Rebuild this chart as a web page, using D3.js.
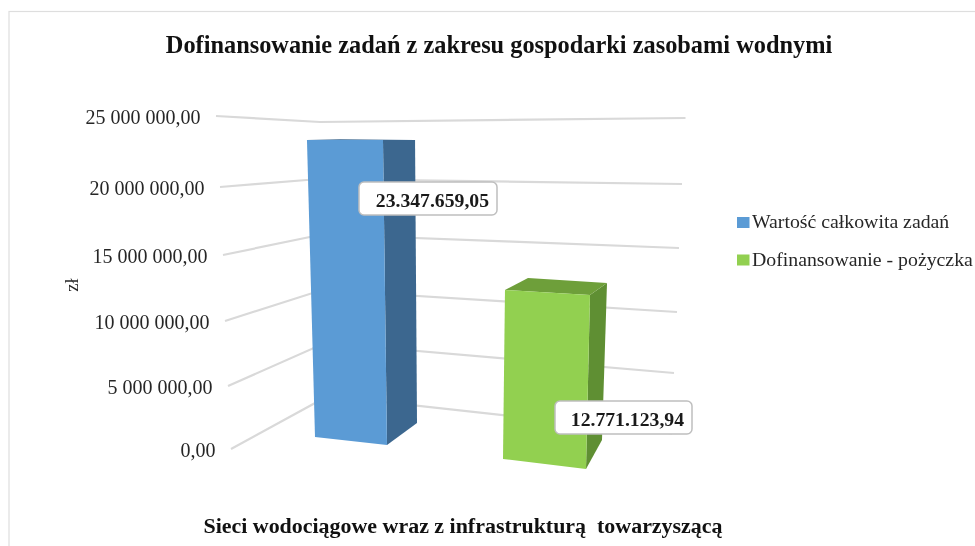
<!DOCTYPE html>
<html><head><meta charset="utf-8">
<script src="https://cdn.jsdelivr.net/npm/d3@7"></script>
<style>html,body{margin:0;padding:0;background:#fff;overflow:hidden}svg{display:block;filter:blur(0.45px)}text{font-family:"Liberation Serif",serif}</style>
</head><body><svg id="c" width="975" height="546"></svg>
<script>
const seriesNames = ["Wartość całkowita zadań", "Dofinansowanie - pożyczka"];
const seriesValues = [23347659.05, 12771123.94];
const valueLabels = ["23.347.659,05", "12.771.123,94"];
const seriesColors = ["#5b9bd5", "#92d050"];
const sideColors = ["#3c678f", "#5f8f33"];
const topColors = ["#3c678f", "#6e9f3a"];
const axisTicks = [0, 5000000, 10000000, 15000000, 20000000, 25000000];
const tickLabels = ["0,00", "5 000 000,00", "10 000 000,00", "15 000 000,00", "20 000 000,00", "25 000 000,00"];
const titleText = "Dofinansowanie zadań z zakresu gospodarki zasobami wodnymi";
const categoryName = "Sieci wodociągowe wraz z infrastrukturą  towarzyszącą";
const unitName = "zł";

const svg = d3.select("#c");
const dom = [0, 25000000];
const lin = (a, b) => d3.scaleLinear().domain(dom).range([a, b]);
const persp = r => d3.scaleLinear().domain(axisTicks).range(r);
// The wall is drawn in perspective, so tick spacing is not even on screen.
const frontX = persp([231, 228, 225, 223, 220, 216]), frontY = persp([449, 386, 321, 255, 187, 116]);
const cornerX = persp([328, 325, 322, 322, 319, 320]), cornerY = persp([396, 343, 290, 234.5, 179, 122]);
const endX = persp([672, 674, 677, 679, 682, 685.5]), endY = persp([433.5, 373, 312, 248, 184, 118]);

svg.append("rect").attr("x", 9).attr("y", 11.5).attr("width", 985).attr("height", 560)
  .attr("fill", "#fff").attr("stroke", "#dedede").attr("stroke-width", 1.2);

const grid = svg.append("g").attr("fill", "none").attr("stroke", "#d9d9d9").attr("stroke-width", 2.2);
grid.selectAll("path").data(axisTicks).join("path")
  .attr("d", v => d3.line()([[frontX(v), frontY(v)], [cornerX(v), cornerY(v)], [endX(v), endY(v)]]));

// Each bar corner: [x at 0, y at 0, x at axis max, y at axis max]
const barCorners = [
  { fl: [315, 437, 306.4, 119], fr: [387, 445, 382.7, 118.4], br: [417, 423, 414.9, 120], bl: [345, 420, 340, 119.5] },
  { fl: [503, 459, 506.9, 128.2], fr: [586, 469, 593.8, 128.4], br: [602, 440, 611.8, 132.7], bl: [523, 430, 532.8, 132.4] }
];
const pt = (c, v) => [lin(c[0], c[2])(v), lin(c[1], c[3])(v)];
const poly = pts => d3.line().curve(d3.curveLinearClosed)(pts);
const bars = svg.append("g");
seriesValues.forEach((v, i) => {
  const c = barCorners[i];
  bars.append("path").attr("fill", sideColors[i])
    .attr("d", poly([pt(c.fr, 0), pt(c.br, 0), pt(c.br, v), pt(c.fr, v)]));
  bars.append("path").attr("fill", topColors[i])
    .attr("d", poly([pt(c.fl, v), pt(c.fr, v), pt(c.br, v), pt(c.bl, v)]));
  bars.append("path").attr("fill", seriesColors[i])
    .attr("d", poly([pt(c.fl, 0), pt(c.fr, 0), pt(c.fr, v), pt(c.fl, v)]));
});

svg.append("g").selectAll("text").data(axisTicks).join("text")
  .attr("x", v => frontX(v) - 15.5).attr("y", v => frontY(v) + 7.5)
  .attr("text-anchor", "end").attr("font-size", 20).attr("fill", "#262626")
  .text((v, i) => tickLabels[i]);

// Data labels
const labelBoxes = [{ x: 359, y: 182, w: 138, h: 33 }, { x: 555, y: 401, w: 137, h: 33 }];
const labels = svg.append("g");
labelBoxes.forEach((b, i) => {
  labels.append("rect").attr("x", b.x).attr("y", b.y).attr("width", b.w).attr("height", b.h).attr("rx", 5)
    .attr("fill", "#fff").attr("stroke", "#bfbfbf").attr("stroke-width", 1.5);
  labels.append("text").attr("x", b.x + b.w - 8).attr("y", b.y + 24.5).attr("text-anchor", "end")
    .attr("font-size", 19.7).attr("font-weight", "bold").attr("fill", "#1a1a1a").text(valueLabels[i]);
});

svg.append("text").attr("x", 499).attr("y", 53).attr("text-anchor", "middle")
  .attr("font-size", 24.35).attr("font-weight", "bold").attr("fill", "#111").text(titleText);
svg.append("text").attr("x", 463).attr("y", 533).attr("text-anchor", "middle")
  .style("white-space", "pre").attr("font-size", 21.95).attr("font-weight", "bold").attr("fill", "#111").text(categoryName);
svg.append("text").attr("transform", "translate(78,285) rotate(-90)").attr("text-anchor", "middle")
  .attr("font-size", 18.5).attr("fill", "#262626").text(unitName);

const legend = svg.append("g");
seriesNames.forEach((n, i) => {
  const y = 222 + i * 37.5;
  legend.append("rect").attr("x", 737).attr("y", y - 5).attr("width", 12.5).attr("height", 11).attr("fill", seriesColors[i]);
  legend.append("text").attr("x", 752).attr("y", y + 6).attr("font-size", 19.8).attr("fill", "#262626").text(n);
});
</script></body></html>
